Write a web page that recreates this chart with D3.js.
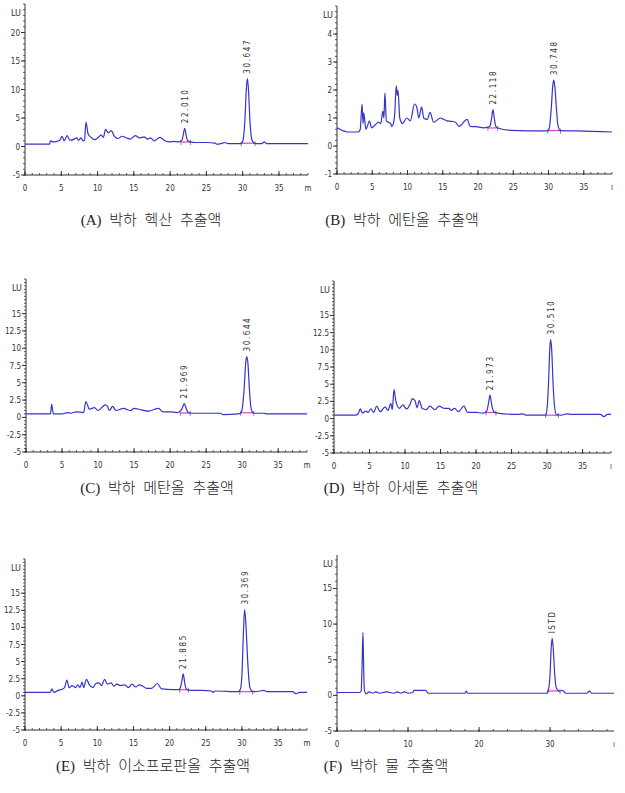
<!DOCTYPE html>
<html>
<head>
<meta charset="utf-8">
<script src="https://cdn.jsdelivr.net/npm/d3@7"></script>
<style>
  body { margin: 0; background: #fff; }
  svg { display: block; }
  .tick-label { font-family: "Liberation Sans Narrow", "DejaVu Sans Condensed", sans-serif; font-size: 8px; fill: #333; }
  .peak-label { font-family: "DejaVu Sans Condensed", sans-serif; font-size: 8px; fill: #333; letter-spacing: 1.6px; }
  .caption { font-family: "Liberation Serif", "Noto Sans CJK KR", serif; font-size: 15px; font-weight: 300; fill: #222; word-spacing: 4px; }
</style>
</head>
<body>
<script>
// chromatogram traces (time in min, signal)
const timeA   = [0, 3.4, 3.5, 3.9, 4.4, 4.8, 5.1, 5.4, 5.8, 6.2, 6.8, 7.1, 7.4, 7.7, 8.0, 8.2, 8.4, 8.7, 9.2, 9.6, 10.1, 10.5, 10.8, 11.1, 11.5, 11.9, 12.3, 12.8, 13.4, 14.0, 14.5, 15.2, 15.8, 16.4, 16.9, 17.3, 17.8, 18.6, 19.3, 20.0, 20.5, 21.0, 21.6, 21.8, 22.010, 22.2, 22.4, 22.8, 23.5, 25.0, 26.2, 26.4, 27.0, 27.5, 28.0, 29.5, 29.9, 30.1, 30.3, 30.5, 30.647, 30.8, 31.0, 31.2, 31.4, 31.8, 32.6, 33.0, 33.3, 39];
const signalA = [0.4, 0.4, 1.0, 0.8, 0.9, 1.1, 1.8, 1.0, 1.9, 1.1, 1.3, 1.5, 1.1, 1.5, 1.0, 1.1, 4.3, 2.2, 1.5, 1.2, 1.6, 2.0, 1.6, 3.0, 2.4, 2.8, 1.8, 1.4, 1.8, 1.5, 1.3, 1.9, 1.5, 1.7, 1.3, 1.5, 1.0, 1.6, 1.0, 0.8, 0.9, 0.8, 1.0, 2.0, 3.2, 2.0, 1.0, 0.8, 0.7, 0.7, 0.6, 0.4, 0.5, 0.7, 0.5, 0.5, 0.6, 1.5, 4.5, 10.0, 11.9, 10.0, 4.5, 1.6, 0.8, 0.5, 0.5, 0.8, 0.5, 0.5];

const timeB   = [0, 0.8, 1.5, 3.0, 3.3, 3.55, 3.7, 3.8, 4.1, 4.3, 4.6, 4.9, 5.4, 5.9, 6.2, 6.5, 6.65, 6.8, 7.0, 7.3, 7.6, 7.8, 8.0, 8.2, 8.4, 8.55, 8.65, 8.9, 9.3, 9.9, 10.4, 11.0, 11.3, 11.6, 12.0, 12.3, 12.8, 13.2, 13.7, 14.7, 15.1, 15.6, 16.2, 16.8, 17.3, 18.45, 18.9, 20.0, 20.8, 21.5, 21.7, 21.9, 22.118, 22.3, 22.5, 22.7, 24.6, 29.8, 30.0, 30.2, 30.4, 30.6, 30.748, 30.9, 31.1, 31.3, 31.5, 31.7, 34.0, 39];
const signalB = [0.65, 0.55, 0.5, 0.5, 0.6, 1.5, 0.8, 1.18, 0.6, 0.7, 0.9, 0.65, 0.75, 0.85, 0.8, 1.25, 1.0, 1.9, 0.9, 0.85, 0.8, 0.7, 0.8, 1.2, 2.15, 1.8, 2.0, 1.0, 0.8, 1.0, 0.9, 1.5, 1.4, 1.0, 1.4, 1.0, 0.95, 1.2, 0.85, 1.0, 0.95, 0.9, 0.88, 0.85, 0.7, 0.95, 0.7, 0.68, 0.65, 0.68, 0.72, 0.95, 1.3, 1.0, 0.72, 0.65, 0.56, 0.54, 0.56, 0.8, 1.4, 2.15, 2.35, 2.1, 1.4, 0.8, 0.6, 0.55, 0.54, 0.5];

const timeC   = [0, 3.4, 3.56, 3.8, 5.0, 5.8, 6.2, 7.0, 8.0, 8.3, 8.8, 9.5, 10.0, 11.0, 11.3, 11.6, 12.0, 12.5, 13.5, 14.5, 15.0, 16.0, 17.0, 18.4, 19.0, 20.0, 21.0, 21.5, 21.75, 21.969, 22.2, 22.5, 23.0, 27.0, 27.3, 29.5, 29.9, 30.1, 30.3, 30.5, 30.644, 30.8, 31.0, 31.2, 31.4, 31.7, 33.0, 33.5, 39];
const signalC = [0.5, 0.5, 1.9, 0.5, 0.5, 0.7, 0.6, 0.8, 0.7, 2.3, 1.2, 1.4, 1.0, 1.8, 1.6, 1.0, 1.6, 1.0, 1.3, 1.0, 1.3, 1.1, 0.9, 1.3, 0.8, 0.8, 0.7, 1.0, 1.5, 2.0, 1.4, 0.7, 0.6, 0.6, 0.4, 0.5, 0.8, 2.0, 4.5, 8.0, 8.8, 7.8, 4.2, 1.6, 0.8, 0.6, 0.6, 0.5, 0.5];

const timeD   = [0, 3.0, 3.4, 3.7, 4.0, 4.5, 4.8, 5.2, 5.6, 6.0, 6.5, 7.2, 7.6, 8.0, 8.2, 8.45, 8.7, 9.2, 9.7, 10.2, 10.8, 11.0, 11.4, 11.7, 12.0, 12.4, 13.0, 13.5, 14.2, 14.8, 15.5, 16.2, 16.5, 17.0, 17.5, 18.3, 18.8, 20.0, 21.0, 21.5, 21.75, 21.973, 22.2, 22.5, 23.0, 26.0, 26.6, 27.0, 29.8, 30.0, 30.2, 30.4, 30.510, 30.65, 30.85, 31.05, 31.3, 32.0, 32.8, 33.5, 37.5, 38.0, 38.5, 39];
const signalD = [0.5, 0.5, 0.7, 1.4, 0.8, 1.1, 0.9, 1.4, 0.9, 1.8, 1.0, 1.7, 1.2, 2.2, 1.3, 4.2, 2.6, 1.5, 2.0, 1.4, 2.3, 2.9, 2.6, 1.6, 2.6, 1.5, 1.3, 1.8, 1.3, 1.8, 1.5, 1.5, 1.2, 1.5, 1.0, 1.8, 0.9, 0.9, 0.8, 1.1, 2.2, 3.4, 2.0, 1.0, 0.8, 0.6, 0.7, 0.5, 0.5, 1.5, 5.0, 10.5, 11.5, 10.0, 5.0, 1.8, 0.6, 0.5, 0.7, 0.6, 0.6, 0.3, 0.6, 0.6];

const timeE   = [0, 3.5, 3.7, 4.0, 4.6, 5.2, 5.5, 5.8, 6.1, 6.5, 7.0, 7.3, 7.6, 7.9, 8.1, 8.5, 8.9, 9.4, 9.8, 10.2, 10.6, 11.0, 11.4, 11.9, 12.3, 12.7, 13.2, 13.8, 14.3, 14.8, 15.3, 15.8, 16.3, 16.8, 17.5, 18.3, 18.9, 20.5, 21.3, 21.5, 21.7, 21.885, 22.1, 22.3, 22.8, 24.5, 25.8, 26.0, 26.3, 29.5, 29.8, 30.0, 30.2, 30.369, 30.55, 30.8, 31.1, 31.5, 32.5, 33.0, 33.5, 37.0, 37.5, 38.0, 39];
const signalE = [0.5, 0.5, 1.0, 0.5, 0.8, 1.0, 1.3, 2.3, 1.2, 1.5, 1.2, 1.6, 1.2, 2.0, 1.2, 2.4, 1.6, 1.2, 1.8, 1.9, 1.5, 2.4, 1.7, 1.9, 1.4, 1.7, 1.5, 1.6, 1.2, 1.7, 1.3, 1.6, 1.4, 1.1, 1.1, 1.8, 1.0, 0.9, 0.9, 1.2, 2.2, 3.2, 1.8, 1.0, 0.8, 0.8, 0.7, 0.5, 0.7, 0.6, 1.0, 3.0, 9.0, 12.6, 10.5, 5.0, 1.2, 0.6, 0.7, 0.8, 0.6, 0.6, 0.3, 0.5, 0.5];

const timeF   = [0, 3.2, 3.4, 3.55, 3.65, 3.75, 3.85, 4.1, 4.5, 5.0, 5.5, 6.0, 7.0, 8.0, 8.5, 9.0, 9.5, 10.0, 10.7, 10.8, 12.5, 12.8, 18.0, 18.2, 18.4, 29.5, 29.8, 30.0, 30.15, 30.3, 30.45, 30.65, 30.9, 31.3, 31.8, 32.2, 35.2, 35.5, 35.9, 39];
const signalF = [0.4, 0.4, 0.6, 5.0, 8.8, 4.0, 0.8, 0.2, 0.5, 0.3, 0.5, 0.3, 0.5, 0.3, 0.5, 0.3, 0.5, 0.3, 0.4, 0.7, 0.7, 0.3, 0.3, 0.6, 0.3, 0.3, 0.9, 3.0, 6.5, 8.0, 6.5, 3.0, 1.0, 0.6, 0.7, 0.3, 0.3, 0.6, 0.3, 0.3];

// labelled peaks
const peakTimesA = [22.010, 30.647]; const peakLabelsA = ["22.010", "30.647"];
const peakTimesB = [22.118, 30.748]; const peakLabelsB = ["22.118", "30.748"];
const peakTimesC = [21.969, 30.644]; const peakLabelsC = ["21.969", "30.644"];
const peakTimesD = [21.973, 30.510]; const peakLabelsD = ["21.973", "30.510"];
const peakTimesE = [21.885, 30.369]; const peakLabelsE = ["21.885", "30.369"];
const peakTimesF = [30.3];           const peakLabelsF = ["ISTD"];

// integration windows (start, end) in min
const intStartA = [21.5, 29.8]; const intEndA = [22.8, 31.7];
const intStartB = [21.4, 29.9]; const intEndB = [22.8, 31.7];
const intStartC = [21.4, 29.8]; const intEndC = [22.8, 31.6];
const intStartD = [21.4, 29.8]; const intEndD = [22.8, 31.6];
const intStartE = [21.4, 29.7]; const intEndE = [22.6, 31.5];
const intStartF = [29.7];       const intEndF = [31.4];

// axis tick labels
const xTicksMain = [0, 5, 10, 15, 20, 25, 30, 35];
const xTicksF = [0, 10, 20, 30];
const yTicksA = [-5, 0, 5, 10, 15, 20];
const yTicksB = [-1, 0, 1, 2, 3, 4];
const yTicksCDE = [-5, -2.5, 0, 2.5, 5, 7.5, 10, 12.5, 15];
const yTicksF = [-5, 0, 5, 10, 15];

const captions = [
  "(A) 박하 헥산 추출액", "(B) 박하 에탄올 추출액",
  "(C) 박하 메탄올 추출액", "(D) 박하 아세톤 추출액",
  "(E) 박하 이소프로판올 추출액", "(F) 박하 물 추출액"
];

// panel layout (pixels)
const panels = [
  { t: timeA, s: signalA, pt: peakTimesA, pl: peakLabelsA, is: intStartA, ie: intEndA, xt: xTicksMain, xm: 1, yt: yTicksA, ym: 1,
    yd: [-5, 25], x0: 25, x1: 308, yb: 175, ytp: 4, cx: 151, cy: 225, end: "m" },
  { t: timeB, s: signalB, pt: peakTimesB, pl: peakLabelsB, is: intStartB, ie: intEndB, xt: xTicksMain, xm: 1, yt: yTicksB, ym: 0.2,
    yd: [-1, 5], x0: 337, x1: 612, yb: 174, ytp: 6, cx: 402, cy: 225, end: "ı" },
  { t: timeC, s: signalC, pt: peakTimesC, pl: peakLabelsC, is: intStartC, ie: intEndC, xt: xTicksMain, xm: 1, yt: yTicksCDE, ym: 0.5,
    yd: [-5, 20], x0: 26, x1: 307, yb: 452, ytp: 279, cx: 157, cy: 493, end: "m" },
  { t: timeD, s: signalD, pt: peakTimesD, pl: peakLabelsD, is: intStartD, ie: intEndD, xt: xTicksMain, xm: 1, yt: yTicksCDE, ym: 0.5,
    yd: [-5, 20], x0: 334, x1: 611, yb: 453, ytp: 281, cx: 401, cy: 493, end: "ı" },
  { t: timeE, s: signalE, pt: peakTimesE, pl: peakLabelsE, is: intStartE, ie: intEndE, xt: xTicksMain, xm: 1, yt: yTicksCDE, ym: 0.5,
    yd: [-5, 20], x0: 25, x1: 307, yb: 730, ytp: 559, cx: 153, cy: 771, end: "m" },
  { t: timeF, s: signalF, pt: peakTimesF, pl: peakLabelsF, is: intStartF, ie: intEndF, xt: xTicksF, xm: 2, yt: yTicksF, ym: 1,
    yd: [-5, 19.7], x0: 337, x1: 614, yb: 731, ytp: 555, cx: 386, cy: 771, end: "ı" }
];

const TRACE_COLOR = "#3535c8";
const INT_COLOR = "#e040c0";
const AXIS_COLOR = "#333";

const svg = d3.select("body").append("svg")
  .attr("width", 625).attr("height", 793);

// value of a trace at time t (linear between read points)
const valueAt = (ts, vs, t) => {
  const i = d3.bisectLeft(ts, t);
  if (i <= 0) return vs[0];
  if (i >= ts.length) return vs[vs.length - 1];
  const f = (t - ts[i - 1]) / (ts[i] - ts[i - 1]);
  return vs[i - 1] + f * (vs[i] - vs[i - 1]);
};

panels.forEach((p, k) => {
  const x = d3.scaleLinear().domain([0, 39]).range([p.x0, p.x1]);
  const y = d3.scaleLinear().domain(p.yd).range([p.yb, p.ytp]);
  const g = svg.append("g");

  // y axis: line, minor and major ticks
  g.append("line").attr("x1", p.x0).attr("x2", p.x0).attr("y1", p.yb).attr("y2", p.ytp)
    .attr("stroke", AXIS_COLOR).attr("stroke-width", 1);
  const yMinor = d3.range(p.yd[0], p.yd[1] + 1e-9, p.ym);
  g.selectAll("line.ymin").data(yMinor).enter().append("line")
    .attr("x1", p.x0 - 2).attr("x2", p.x0)
    .attr("y1", d => y(d)).attr("y2", d => y(d))
    .attr("stroke", AXIS_COLOR).attr("stroke-width", 0.8);
  g.selectAll("line.ymaj").data(p.yt).enter().append("line")
    .attr("x1", p.x0 - 4).attr("x2", p.x0)
    .attr("y1", d => y(d)).attr("y2", d => y(d))
    .attr("stroke", AXIS_COLOR).attr("stroke-width", 1);
  g.selectAll("text.ylab").data(p.yt).enter().append("text")
    .attr("class", "tick-label")
    .attr("x", p.x0 - 5).attr("y", d => y(d) + 3)
    .attr("text-anchor", "end")
    .text(d => d);
  g.append("text").attr("class", "tick-label")
    .attr("x", p.x0 - 14).attr("y", p.ytp + 12)
    .style("font-size", "9px")
    .text("LU");

  // x axis: line, minor and major ticks
  g.append("line").attr("x1", p.x0).attr("x2", p.x1).attr("y1", p.yb).attr("y2", p.yb)
    .attr("stroke", AXIS_COLOR).attr("stroke-width", 1.2);
  const xMinor = d3.range(0, 39 + 1e-9, p.xm);
  g.selectAll("line.xmin").data(xMinor).enter().append("line")
    .attr("x1", d => x(d)).attr("x2", d => x(d))
    .attr("y1", p.yb - 2).attr("y2", p.yb)
    .attr("stroke", AXIS_COLOR).attr("stroke-width", 0.8);
  g.selectAll("line.xmaj").data(p.xt).enter().append("line")
    .attr("x1", d => x(d)).attr("x2", d => x(d))
    .attr("y1", p.yb - 4).attr("y2", p.yb + 1)
    .attr("stroke", AXIS_COLOR).attr("stroke-width", 1);
  g.selectAll("text.xlab").data(p.xt).enter().append("text")
    .attr("class", "tick-label")
    .attr("x", d => x(d)).attr("y", p.yb + 16)
    .attr("text-anchor", "middle")
    .text(d => d);
  g.append("text").attr("class", "tick-label")
    .attr("x", p.x1).attr("y", p.yb + 16)
    .attr("text-anchor", "middle")
    .text(p.end);

  // integration baselines (flat at the lower of the two end levels)
  p.is.forEach((a, j) => {
    const b = p.ie[j];
    const lvl = Math.min(valueAt(p.t, p.s, a), valueAt(p.t, p.s, b));
    g.append("line")
      .attr("x1", x(a)).attr("x2", x(b))
      .attr("y1", y(lvl)).attr("y2", y(lvl))
      .attr("stroke", INT_COLOR).attr("stroke-width", 1.2);
    [a, b].forEach(tt => {
      g.append("line")
        .attr("x1", x(tt)).attr("x2", x(tt))
        .attr("y1", y(lvl) - 2).attr("y2", y(lvl) + 3)
        .attr("stroke", "#555").attr("stroke-width", 0.7);
    });
  });

  // chromatogram trace
  const pts = p.t.map((t, i) => [t, p.s[i]]);
  g.append("path")
    .datum(pts)
    .attr("fill", "none")
    .attr("stroke", TRACE_COLOR)
    .attr("stroke-width", 1.2)
    .attr("stroke-linejoin", "round")
    .attr("d", d3.line().curve(d3.curveMonotoneX).x(d => x(d[0])).y(d => y(d[1])));

  // peak labels, rotated, reading bottom to top
  p.pt.forEach((t, j) => {
    const v = valueAt(p.t, p.s, t);
    g.append("text")
      .attr("class", "peak-label")
      .attr("transform", `translate(${x(t) + 3},${y(v) - 5}) rotate(-90)`)
      .attr("text-anchor", "start")
      .text(p.pl[j]);
  });

  // caption
  svg.append("text")
    .attr("class", "caption")
    .attr("x", p.cx).attr("y", p.cy)
    .attr("text-anchor", "middle")
    .text(captions[k]);
});
</script>
</body>
</html>
